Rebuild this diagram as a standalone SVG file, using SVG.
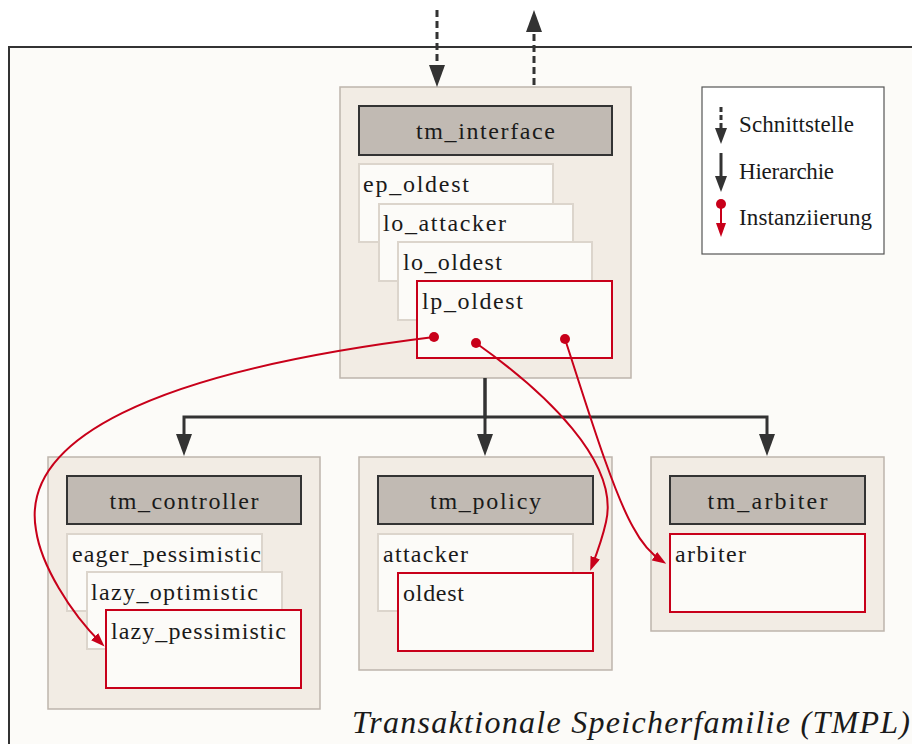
<svg xmlns="http://www.w3.org/2000/svg" width="912" height="744" viewBox="0 0 912 744">
<defs>
<style>
text{font-family:"Liberation Serif","Times New Roman",serif;font-size:24px;fill:#1a1a1a}
.lg{font-size:23px}
.title{font-style:italic;font-size:32px}
.cont{fill:#f2ece4;stroke:#bdb5ac;stroke-width:1.5}
.head{fill:#c1bab3;stroke:#333;stroke-width:2}
.sub{fill:#fcfbf8;stroke:#dcd5cc;stroke-width:2}
.inst{fill:#fcfbf8;stroke:#c8001a;stroke-width:2}
.dark{fill:none;stroke:#333;stroke-width:3}
.dash{fill:none;stroke:#333;stroke-width:3;stroke-dasharray:7,4}
.red{fill:none;stroke:#c8001a;stroke-width:2}
</style>
<marker id="ah" viewBox="0 0 22 16" refX="14" refY="8" markerWidth="22" markerHeight="16" orient="auto" markerUnits="userSpaceOnUse"><path d="M0,0 L22,8 L0,16 z" fill="#333"/></marker>
<marker id="ahs" viewBox="0 0 16 12" refX="10" refY="6" markerWidth="16" markerHeight="12" orient="auto" markerUnits="userSpaceOnUse"><path d="M0,0 L16,6 L0,12 z" fill="#333"/></marker>
<marker id="rh" viewBox="0 0 14 10" refX="9" refY="5" markerWidth="14" markerHeight="10" orient="auto" markerUnits="userSpaceOnUse"><path d="M0,0 L14,5 L0,10 z" fill="#c8001a"/></marker>
<marker id="rd" viewBox="0 0 10 10" refX="5" refY="5" markerWidth="10" markerHeight="10" markerUnits="userSpaceOnUse"><circle cx="5" cy="5" r="5" fill="#c8001a"/></marker>
</defs>
<rect x="0" y="0" width="912" height="744" fill="#ffffff"/>
<g id="frame">
<rect x="9" y="47" width="905" height="700" fill="#fcfbf8"/>
<path d="M9,744 V47 H912" fill="none" stroke="#333" stroke-width="2"/>
<text class="title" x="352" y="733" textLength="558">Transaktionale Speicherfamilie (TMPL)</text>
</g>
<g id="tm_interface">
<rect class="cont" x="340" y="87" width="291" height="291"/>
<rect class="head" x="359" y="106" width="253" height="49"/>
<text x="485.5" y="139" text-anchor="middle" textLength="139">tm_interface</text>
<rect class="sub" x="359" y="164" width="194" height="78"/>
<text x="363" y="192" textLength="106">ep_oldest</text>
<rect class="sub" x="379" y="204" width="194" height="77"/>
<text x="383" y="231" textLength="123">lo_attacker</text>
<rect class="sub" x="398" y="242" width="194" height="78"/>
<text x="403" y="270" textLength="99">lo_oldest</text>
<rect class="inst" x="417" y="281" width="195" height="77"/>
<text x="422" y="309" textLength="101">lp_oldest</text>
</g>
<g id="tm_controller">
<rect class="cont" x="48" y="457" width="272" height="252"/>
<rect class="head" x="67" y="476" width="234" height="48"/>
<text x="184" y="509" text-anchor="middle" textLength="149">tm_controller</text>
<rect class="sub" x="67" y="534" width="195" height="77"/>
<text x="72" y="562" textLength="189">eager_pessimistic</text>
<rect class="sub" x="87" y="572" width="195" height="77"/>
<text x="91" y="600" textLength="167">lazy_optimistic</text>
<rect class="inst" x="106" y="610" width="195" height="78"/>
<text x="111" y="639" textLength="175">lazy_pessimistic</text>
</g>
<g id="tm_policy">
<rect class="cont" x="359" y="457" width="253" height="213"/>
<rect class="head" x="378" y="476" width="215" height="48"/>
<text x="485.5" y="509" text-anchor="middle" textLength="111">tm_policy</text>
<rect class="sub" x="378" y="534" width="195" height="77"/>
<text x="383" y="562" textLength="85">attacker</text>
<rect class="inst" x="398" y="573" width="195" height="78"/>
<text x="403" y="601" textLength="61">oldest</text>
</g>
<g id="tm_arbiter">
<rect class="cont" x="651" y="457" width="233" height="174"/>
<rect class="head" x="670" y="476" width="195" height="48"/>
<text x="767.5" y="509" text-anchor="middle" textLength="120">tm_arbiter</text>
<rect class="inst" x="670" y="534" width="195" height="78"/>
<text x="675" y="562" textLength="71">arbiter</text>
</g>
<g id="legend">
<rect x="702" y="87" width="182" height="167" fill="#ffffff" stroke="#555" stroke-width="1.2"/>
<path d="M721,107 V138" fill="none" stroke="#333" stroke-width="3" stroke-dasharray="5,3" marker-end="url(#ahs)"/>
<text class="lg" x="739" y="132" textLength="115">Schnittstelle</text>
<path d="M721,153 V186" fill="none" stroke="#333" stroke-width="3" marker-end="url(#ahs)"/>
<text class="lg" x="739" y="179" textLength="95">Hierarchie</text>
<path d="M721,204 V232" fill="none" stroke="#c8001a" stroke-width="2" marker-start="url(#rd)" marker-end="url(#rh)"/>
<text class="lg" x="739" y="225" textLength="133">Instanziierung</text>
</g>
<g id="connectors">
<path class="dash" d="M437,10 V79" marker-end="url(#ah)"/>
<path class="dash" d="M534,85 V18" marker-end="url(#ah)"/>
<path class="dark" d="M485,378 V417 H184 V448" marker-end="url(#ah)"/>
<path class="dark" d="M485,417 H767 V448" marker-end="url(#ah)"/>
<path class="dark" d="M485,378 V448" marker-end="url(#ah)"/>
<path class="red" d="M434,337 C150,372 20,440 36,530 C41,565 70,612 101,643" marker-start="url(#rd)" marker-end="url(#rh)"/>
<path class="red" d="M476,343 C545,392 620,462 606,522 C602,540 597,553 592,566" marker-start="url(#rd)" marker-end="url(#rh)"/>
<path class="red" d="M565,339 C585,400 612,490 633,527 C642,544 651,554 662,561" marker-start="url(#rd)" marker-end="url(#rh)"/>
</g>
</svg>
